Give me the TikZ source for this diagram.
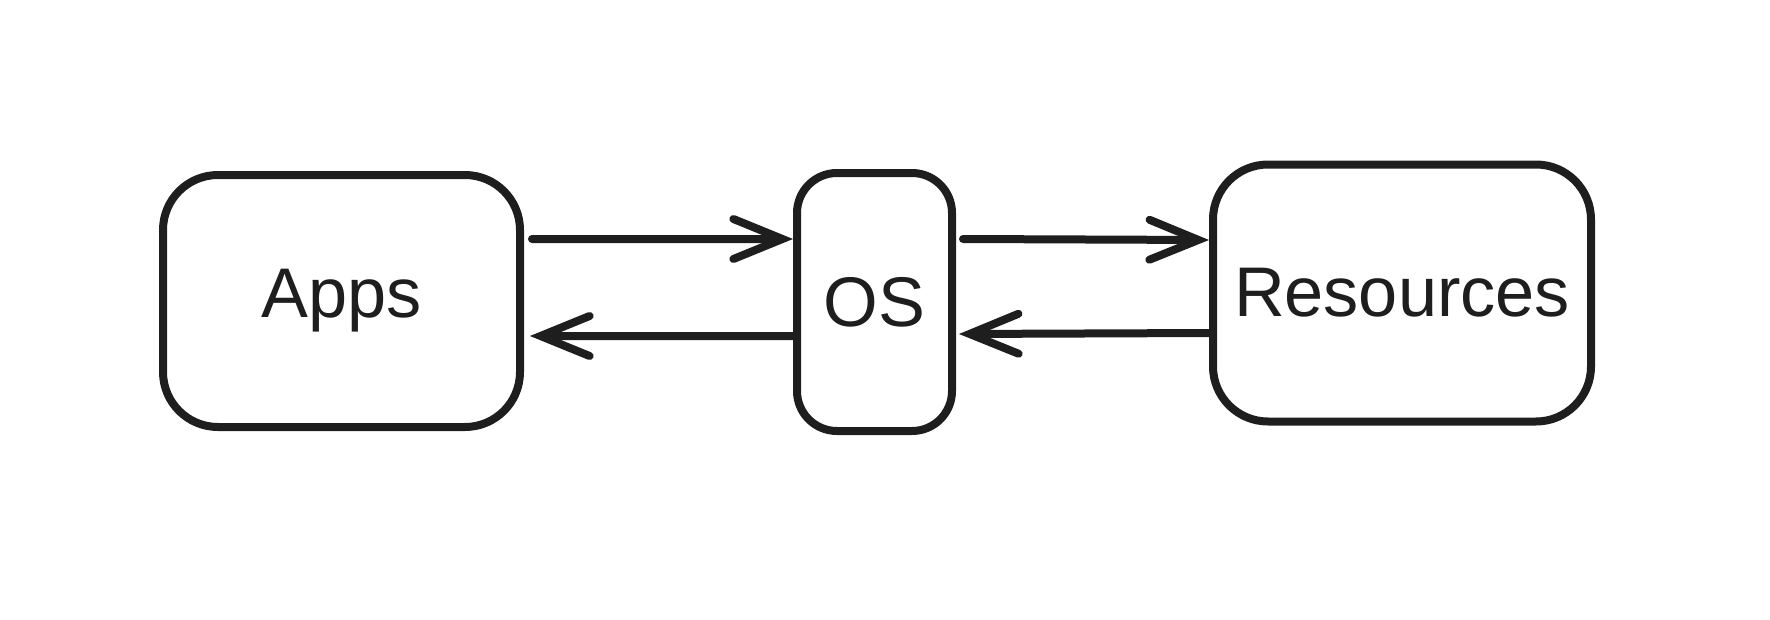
\documentclass[tikz,border=0pt]{standalone}
\usepackage{fontspec}
\setmainfont{Liberation Sans}
\usetikzlibrary{arrows.meta}
\definecolor{ink}{HTML}{1E1E1E}
\tikzset{
  box/.style={draw=ink, line width=0.8mm, rounded corners=#1, inner sep=0pt,
    font=\fontsize{20}{24}\selectfont, text=ink},
  link/.style={draw=ink, line width=0.8mm, line cap=round,
    -{Straight Barb[length=4.9mm, width=4mm, line cap=round]}}
}
\begin{document}
\begin{tikzpicture}[x=0.1mm, y=-0.1mm]
\useasboundingbox (0,0) rectangle (1770,620);
\node[box=5.5mm, minimum width=35.7mm, minimum height=25.2mm] (apps) at (341.5,301) {Apps};
\node[box=4mm, minimum width=15.5mm, minimum height=25.8mm] (os) at (874.5,302) {OS};
\node[box=5.5mm, minimum width=37.8mm, minimum height=25.7mm] (res) at (1402,293) {Resources};
\draw[link] ([xshift=0.8mm,yshift=6.2mm]apps.east) -- ([yshift=6.3mm]os.west);
\draw[link] ([yshift=-3.4mm]os.west) -- ([xshift=0.6mm,yshift=-3.5mm]apps.east);
\draw[link] ([xshift=0.7mm,yshift=6.3mm]os.east) -- ([yshift=5.3mm]res.west);
\draw[link] ([yshift=-4mm]res.west) -- ([xshift=0.3mm,yshift=-3.2mm]os.east);
\end{tikzpicture}
\end{document}
